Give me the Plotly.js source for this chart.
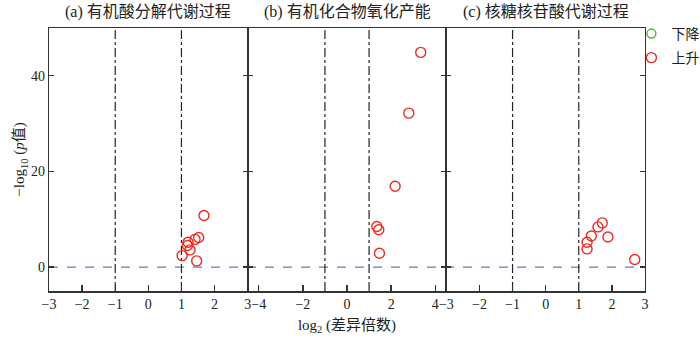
<!DOCTYPE html>
<html>
<head>
<meta charset="utf-8">
<script src="https://cdn.plot.ly/plotly-3.0.1.min.js"></script>
<style>
  html, body { margin: 0; padding: 0; background: #fff; }
  #chart { width: 700px; height: 339px; }
</style>
</head>
<body>
<div id="chart"></div>
<script>
// panel titles
var panelTitles = ["(a) 有机酸分解代谢过程", "(b) 有机化合物氧化产能", "(c) 核糖核苷酸代谢过程"];

// (a) up-regulated points
var aX = [1.02, 1.18, 1.20, 1.26, 1.41, 1.52, 1.46, 1.68];
var aY = [2.4, 4.5, 5.2, 3.6, 5.8, 6.2, 1.3, 10.8];

// (b) up-regulated points
var bX = [1.47, 1.35, 1.44, 2.18, 2.80, 3.34];
var bY = [2.9, 8.5, 7.8, 16.9, 32.2, 44.9];

// (c) up-regulated points
var cX = [2.69, 1.25, 1.25, 1.38, 1.88, 1.58, 1.71];
var cY = [1.6, 3.8, 5.2, 6.5, 6.3, 8.4, 9.25];

// thresholds
var foldCut = [-1, 1];
var pCut = 0;

// axis ranges / ticks
var xRanges = [[-3, 3], [-4.5, 4.5], [-3, 3]];
var xTicks = [[-3, -2, -1, 0, 1, 2, 3], [-4, -2, 0, 2, 4], [-3, -2, -1, 0, 1, 2, 3]];
var yRange = [-5, 50];
var yTicks = [0, 20, 40];

var red = "#ee2a22";
var green = "#4cb837";
var font = "Liberation Serif, Times New Roman, Noto Sans CJK SC, serif";

var up = [[aX, aY], [bX, bY], [cX, cY]];

var data = [{
  x: [null], y: [null],
  type: "scatter", mode: "markers",
  name: "下降",
  legend: "legend",
  marker: {symbol: "circle-open", size: 9, color: green, line: {width: 1.4, color: green}},
  xaxis: "x", yaxis: "y"
}];

up.forEach(function (p, i) {
  data.push({
    x: p[0], y: p[1],
    type: "scatter", mode: "markers",
    name: "上升",
    legend: "legend2",
    legendgroup: "up",
    showlegend: i === 0,
    marker: {symbol: "circle-open", size: 10, color: red, line: {width: 1.4, color: red}},
    xaxis: i === 0 ? "x" : "x" + (i + 1),
    yaxis: i === 0 ? "y" : "y" + (i + 1),
    cliponaxis: false
  });
});

function legendAt(y) {
  return {
    xref: "container", yref: "container",
    x: 0.902, xanchor: "left", y: y, yanchor: "top",
    font: {family: font, size: 14, color: "#222"},
    itemwidth: 30, tracegroupgap: 0, bgcolor: "rgba(0,0,0,0)"
  };
}

var w = 1 / 3;
var layout = {
  width: 700, height: 339,
  margin: {l: 49, r: 55, t: 28, b: 48, autoexpand: false},
  paper_bgcolor: "#fff", plot_bgcolor: "#fff",
  font: {family: font, size: 14, color: "#222"},
  showlegend: true,
  legend: legendAt(0.947),
  legend2: legendAt(0.876),
  shapes: [],
  annotations: []
};

for (var i = 0; i < 3; i++) {
  var sfx = i === 0 ? "" : String(i + 1);
  layout["xaxis" + sfx] = {
    domain: [i * w, (i + 1) * w],
    range: xRanges[i],
    tickvals: xTicks[i],
    ticks: "inside", ticklen: 6, tickwidth: 1.3, tickcolor: "#333",
    showline: true, linecolor: "#333", linewidth: 1.5, mirror: true,
    showgrid: false, zeroline: false,
    anchor: "y" + sfx,
    tickfont: {family: font, size: 14, color: "#222"}
  };
  layout["yaxis" + sfx] = {
    domain: [0, 1],
    range: yRange,
    tickvals: yTicks,
    ticks: "inside", ticklen: 5, tickwidth: 1.3, tickcolor: "#333",
    showline: true, linecolor: "#333", linewidth: 1.1, mirror: "ticks",
    showgrid: false, zeroline: false,
    showticklabels: i === 0,
    anchor: "x" + sfx,
    tickfont: {family: font, size: 14, color: "#222"}
  };
  foldCut.forEach(function (v) {
    layout.shapes.push({
      type: "line", xref: "x" + sfx, yref: "y" + sfx,
      x0: v, x1: v, y0: yRange[0], y1: yRange[1],
      line: {color: "#222", width: 1.2, dash: "dashdot"}, layer: "below"
    });
  });
  layout.annotations.push({
    text: panelTitles[i],
    xref: "paper", yref: "paper",
    x: (i + 0.5) * w, y: 1, yshift: 16,
    xanchor: "center", yanchor: "middle",
    showarrow: false,
    font: {family: font, size: 16, color: "#222"}
  });
}

layout.shapes.push({
  type: "line", xref: "paper", yref: "y",
  x0: 0, x1: 1, y0: pCut, y1: pCut,
  line: {color: "#6f76b8", width: 1.4, dash: "dash"}, layer: "below"
});

layout.yaxis.title = {text: "−log<sub>10</sub> (<i>p</i>值)", font: {family: font, size: 15, color: "#222"}, standoff: 2};
layout.xaxis2.title = {text: "log<sub>2</sub> (差异倍数)", font: {family: font, size: 15, color: "#222"}, standoff: 8};

Plotly.newPlot("chart", data, layout, {displayModeBar: false, staticPlot: true});
</script>
</body>
</html>
